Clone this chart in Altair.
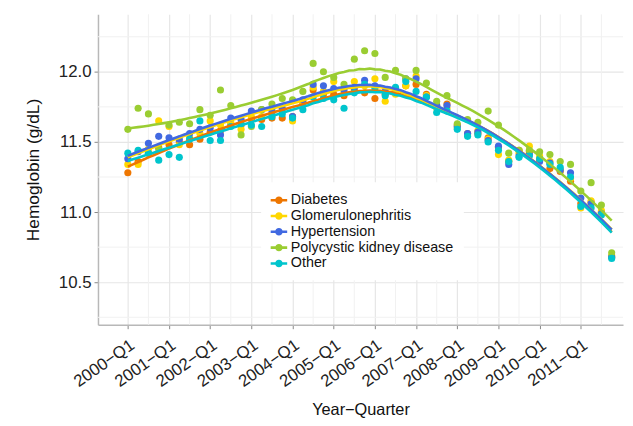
import altair as alt
import numpy as np
import pandas as pd

series = ["Diabetes", "Glomerulonephritis", "Hypertension", "Polycystic kidney disease", "Other"]
colors = ["#EE7600", "#FFD700", "#4169E1", "#9ACD32", "#00C5CD"]

years = list(range(2000, 2012))
quarters = ["Q1", "Q2", "Q3", "Q4"]
labels = [f"{y}\u2212{q}" for y in years for q in quarters]

diabetes = [11.28, 11.36, 11.42, 11.46, 11.48, 11.50, 11.48, 11.52, 11.57, 11.58, 11.62, 11.62,
            11.66, 11.66, 11.67, 11.67, 11.68, 11.78, 11.87, 11.84, 11.84, 11.83, 11.87, 11.85,
            11.81, 11.84, 11.86, 11.90, 11.91, 11.84, 11.76, 11.77, 11.62, 11.56, 11.56, 11.53,
            11.46, 11.36, 11.44, 11.43, 11.38, 11.31, 11.29, 11.22, 11.06, 11.07, 11.00, 10.68]
glomerulo = [11.34, 11.34, 11.45, 11.65, 11.61, 11.48, 11.53, 11.56, 11.65, 11.62, 11.64, 11.59,
             11.68, 11.68, 11.70, 11.72, 11.65, 11.79, 11.89, 11.86, 11.93, 11.85, 11.93, 11.90,
             11.95, 11.79, 11.84, 11.90, 11.97, 11.83, 11.74, 11.74, 11.60, 11.55, 11.58, 11.52,
             11.41, 11.37, 11.42, 11.47, 11.40, 11.36, 11.30, 11.24, 11.03, 11.08, 11.01, 10.69]
hypertension = [11.38, 11.43, 11.49, 11.54, 11.53, 11.52, 11.56, 11.59, 11.60, 11.55, 11.67, 11.66,
                11.72, 11.73, 11.72, 11.74, 11.68, 11.80, 11.91, 11.90, 11.88, 11.87, 11.89, 11.94,
                11.90, 11.86, 11.88, 11.95, 11.95, 11.82, 11.76, 11.76, 11.61, 11.56, 11.57, 11.51,
                11.47, 11.34, 11.40, 11.41, 11.36, 11.35, 11.30, 11.28, 11.10, 11.06, 10.99, 10.68]
polycystic = [11.59, 11.74, 11.70, 11.45, 11.62, 11.64, 11.63, 11.73, 11.69, 11.87, 11.76, 11.55,
              11.61, 11.73, 11.77, 11.81, 11.80, 11.86, 12.06, 12.00, 11.96, 11.91, 12.09, 12.15,
              12.13, 11.96, 12.01, 11.95, 12.01, 11.92, 11.79, 11.83, 11.63, 11.66, 11.64, 11.72,
              11.62, 11.42, 11.44, 11.44, 11.43, 11.41, 11.36, 11.34, 11.15, 11.21, 11.05, 10.71]
other = [11.42, 11.44, 11.42, 11.37, 11.41, 11.39, 11.52, 11.65, 11.51, 11.51, 11.61, 11.63,
         11.62, 11.61, 11.68, 11.70, 11.67, 11.73, 11.82, 11.81, 11.80, 11.74, 11.85, 11.91,
         11.88, 11.83, 11.89, 11.93, 11.86, 11.82, 11.71, 11.72, 11.59, 11.54, 11.55, 11.50,
         11.44, 11.36, 11.39, 11.40, 11.38, 11.34, 11.32, 11.25, 11.04, 11.03, 10.98, 10.67]

y_ticks = [10.5, 11.0, 11.5, 12.0]
y_minor = [10.25, 10.75, 11.25, 11.75, 12.25]
x_ticks = [labels.index(f"{y}\u2212Q1") for y in years]
x_minor = [labels.index(f"{y}\u2212Q3") for y in years]

values = [diabetes, glomerulo, hypertension, polycystic, other]
rows = []
for name, vals in zip(series, values):
    for i, v in enumerate(vals):
        rows.append({"series": name, "idx": i, "quarter": labels[i], "value": v})
df = pd.DataFrame(rows)


def loess(xs, ys, grid, span=0.75):
    # local quadratic regression with tricube weights (R loess defaults)
    xs = np.asarray(xs, float)
    ys = np.asarray(ys, float)
    q = int(np.floor(len(xs) * span))
    out = []
    for x0 in grid:
        d = np.abs(xs - x0)
        h = np.sort(d)[q - 1]
        w = np.clip(1 - (d / h) ** 3, 0, None) ** 3
        X = np.vstack([np.ones_like(xs), xs - x0, (xs - x0) ** 2]).T
        W = np.diag(w)
        beta = np.linalg.solve(X.T @ W @ X, X.T @ W @ ys)
        out.append(beta[0])
    return out


grid = np.linspace(0, len(labels) - 1, 95)
smooth_rows = []
for name, vals in zip(series, values):
    fit = loess(range(len(vals)), vals, grid)
    for gx, fy in zip(grid, fit):
        smooth_rows.append({"series": name, "idx": float(gx), "value": float(fy)})
smooth = pd.DataFrame(smooth_rows)

xscale = alt.Scale(domain=[-2.9, 48.1], nice=False, zero=False)
yscale = alt.Scale(domain=[10.197, 12.41], nice=False, zero=False)
cscale = alt.Scale(domain=series, range=colors)

label_expr = "datum.value >= 0 ? toString(2000 + floor(datum.value / 4)) + '\u2212Q1' : ''"

xaxis = alt.Axis(values=x_ticks, labelExpr=label_expr, labelAngle=-35, labelAlign="right",
                 labelBaseline="top", labelFontSize=17, labelColor="#222", labelOverlap=False,
                 labelFont="Liberation Sans", title="Year\u2212Quarter", titleFontSize=16.5,
                 titleFont="Liberation Sans", titleFontWeight="normal", titleColor="#111",
                 titlePadding=12, domainColor="#b8b8b8", domainWidth=1.5, tickColor="#888",
                 tickSize=4, gridColor="#e6e6e6", gridWidth=1.2, labelPadding=8)
yaxis = alt.Axis(values=y_ticks, format=".1f", labelFontSize=17, labelColor="#222",
                 labelFont="Liberation Sans", title="Hemoglobin (g/dL)", titleFontSize=17.5,
                 titleFont="Liberation Sans", titleFontWeight="normal", titleColor="#111",
                 titlePadding=16, domainColor="#b8b8b8", domainWidth=1.5, tickColor="#888",
                 tickSize=4, gridColor="#e6e6e6", gridWidth=1.2, labelPadding=3)

legend = alt.Legend(title=None, orient="none", legendX=165, legendY=170, fillColor="white",
                    padding=10, labelFontSize=14.5, labelFont="Liberation Sans", labelColor="#111",
                    labelLimit=0,
                    symbolType="M-1.1,-0.17H1.1V0.17H-1.1Z M-0.5,0A0.5,0.5,0,1,1,0.5,0A0.5,0.5,0,1,1,-0.5,0Z",
                    symbolSize=230, symbolStrokeWidth=0, rowPadding=1, labelOffset=4,
                    symbolOpacity=1)

minor_x = alt.Chart(pd.DataFrame({"idx": x_minor})).mark_rule(color="#f1f1f1", strokeWidth=1).encode(
    x=alt.X("idx:Q", scale=xscale, axis=xaxis))
minor_y = alt.Chart(pd.DataFrame({"value": y_minor})).mark_rule(color="#f1f1f1", strokeWidth=1).encode(
    y=alt.Y("value:Q", scale=yscale, axis=yaxis))

points = alt.Chart(df).mark_circle(size=52, opacity=1).encode(
    x=alt.X("idx:Q", scale=xscale, axis=xaxis),
    y=alt.Y("value:Q", scale=yscale, axis=yaxis),
    color=alt.Color("series:N", scale=cscale, legend=legend),
)

lines = alt.Chart(smooth).mark_line(strokeWidth=2.6).encode(
    x=alt.X("idx:Q", scale=xscale, axis=xaxis),
    y=alt.Y("value:Q", scale=yscale, axis=yaxis),
    color=alt.Color("series:N", scale=cscale, legend=legend),
)

chart = alt.layer(minor_x, minor_y, points, lines).properties(
    width=531, height=314,
    autosize=alt.AutoSizeParams(type="none"),
    padding={"left": 91, "top": 4, "right": 2, "bottom": 95},
).configure_view(stroke=None)

chart.save("out.html", embed_options={"renderer": "svg", "actions": False})
